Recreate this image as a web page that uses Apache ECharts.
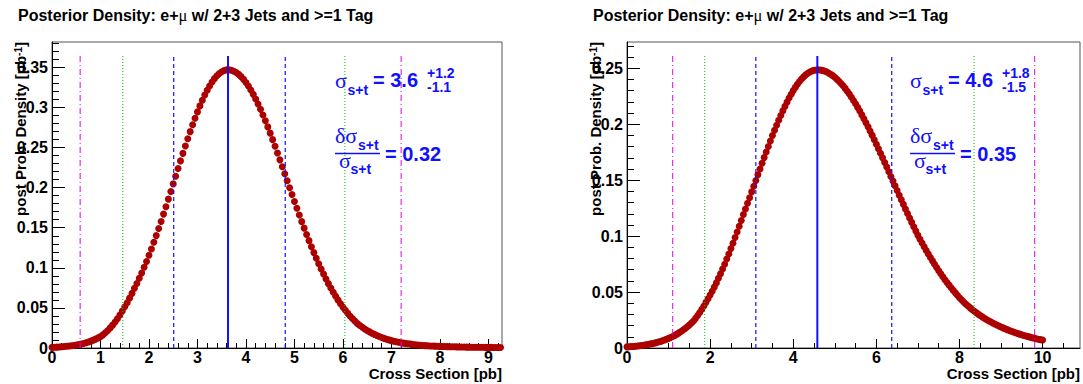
<!DOCTYPE html>
<html>
<head>
<meta charset="utf-8">
<script src="https://cdn.jsdelivr.net/npm/echarts@6/dist/echarts.min.js"></script>
<style>
  html, body { margin: 0; padding: 0; background: #fff; }
  #chart { width: 1083px; height: 384px; }
</style>
</head>
<body>
<div id="chart"></div>
<script>
// Posterior density histograms (bin width 0.05 pb, starting at 0)
const binWidth = 0.05;

const leftDensity = [
  0.0008, 0.0009, 0.0011, 0.0013, 0.0015, 0.0018, 0.0021, 0.0024, 0.0028, 0.0032,
  0.0037, 0.0043, 0.0050, 0.0057, 0.0066, 0.0075, 0.0086, 0.0098, 0.0111, 0.0126,
  0.0142, 0.0164, 0.0190, 0.0218, 0.0251, 0.0285, 0.0324, 0.0365, 0.0412, 0.0460,
  0.0514, 0.0565, 0.0622, 0.0681, 0.0745, 0.0805, 0.0870, 0.0936, 0.1007, 0.1080,
  0.1158, 0.1236, 0.1319, 0.1402, 0.1490, 0.1578, 0.1670, 0.1762, 0.1857, 0.1951,
  0.2047, 0.2142, 0.2239, 0.2334, 0.2428, 0.2520, 0.2611, 0.2699, 0.2784, 0.2866,
  0.2945, 0.3020, 0.3090, 0.3156, 0.3215, 0.3269, 0.3317, 0.3360, 0.3395, 0.3424,
  0.3446, 0.3461, 0.3469, 0.3470, 0.3464, 0.3453, 0.3436, 0.3413, 0.3385, 0.3351,
  0.3311, 0.3267, 0.3218, 0.3164, 0.3105, 0.3043, 0.2977, 0.2907, 0.2834, 0.2758,
  0.2680, 0.2599, 0.2516, 0.2432, 0.2347, 0.2261, 0.2174, 0.2087, 0.2000, 0.1914,
  0.1828, 0.1743, 0.1659, 0.1576, 0.1495, 0.1416, 0.1339, 0.1263, 0.1190, 0.1119,
  0.1051, 0.0985, 0.0922, 0.0861, 0.0803, 0.0748, 0.0695, 0.0645, 0.0597, 0.0552,
  0.0510, 0.0470, 0.0432, 0.0397, 0.0364, 0.0333, 0.0304, 0.0280, 0.0258, 0.0237,
  0.0218, 0.0201, 0.0185, 0.0170, 0.0156, 0.0143, 0.0131, 0.0120, 0.0110, 0.0101,
  0.0092, 0.0085, 0.0078, 0.0072, 0.0066, 0.0061, 0.0056, 0.0052, 0.0048, 0.0044,
  0.0041, 0.0038, 0.0035, 0.0032, 0.0030, 0.0028, 0.0026, 0.0024, 0.0023, 0.0021,
  0.0020, 0.0019, 0.0018, 0.0017, 0.0016, 0.0015, 0.0015, 0.0014, 0.0013, 0.0012,
  0.0012, 0.0011, 0.0011, 0.0010, 0.0010, 0.0010, 0.0009, 0.0009, 0.0009, 0.0008,
  0.0008, 0.0008, 0.0007, 0.0007, 0.0007, 0.0007
];

const rightDensity = [
  0.0010, 0.0011, 0.0013, 0.0014, 0.0016, 0.0018, 0.0020, 0.0022, 0.0025, 0.0028,
  0.0031, 0.0035, 0.0039, 0.0043, 0.0048, 0.0053, 0.0058, 0.0064, 0.0071, 0.0078,
  0.0086, 0.0094, 0.0103, 0.0113, 0.0124, 0.0135, 0.0148, 0.0161, 0.0175, 0.0190,
  0.0206, 0.0223, 0.0242, 0.0265, 0.0291, 0.0317, 0.0346, 0.0376, 0.0408, 0.0440,
  0.0474, 0.0508, 0.0544, 0.0582, 0.0623, 0.0663, 0.0706, 0.0749, 0.0795, 0.0841,
  0.0889, 0.0937, 0.0988, 0.1037, 0.1089, 0.1140, 0.1194, 0.1243, 0.1294, 0.1344,
  0.1396, 0.1446, 0.1498, 0.1549, 0.1601, 0.1651, 0.1702, 0.1752, 0.1802, 0.1851,
  0.1899, 0.1946, 0.1991, 0.2036, 0.2079, 0.2120, 0.2160, 0.2198, 0.2235, 0.2269,
  0.2301, 0.2330, 0.2358, 0.2382, 0.2405, 0.2424, 0.2442, 0.2456, 0.2468, 0.2476,
  0.2483, 0.2486, 0.2487, 0.2486, 0.2482, 0.2476, 0.2469, 0.2459, 0.2448, 0.2435,
  0.2420, 0.2403, 0.2385, 0.2365, 0.2344, 0.2321, 0.2296, 0.2270, 0.2242, 0.2213,
  0.2183, 0.2151, 0.2118, 0.2084, 0.2049, 0.2013, 0.1977, 0.1939, 0.1901, 0.1862,
  0.1822, 0.1782, 0.1741, 0.1700, 0.1659, 0.1618, 0.1576, 0.1534, 0.1492, 0.1450,
  0.1408, 0.1366, 0.1325, 0.1284, 0.1243, 0.1202, 0.1162, 0.1123, 0.1084, 0.1045,
  0.1007, 0.0972, 0.0938, 0.0905, 0.0872, 0.0840, 0.0809, 0.0779, 0.0749, 0.0720,
  0.0691, 0.0664, 0.0637, 0.0611, 0.0586, 0.0562, 0.0538, 0.0515, 0.0493, 0.0471,
  0.0450, 0.0431, 0.0412, 0.0394, 0.0377, 0.0361, 0.0345, 0.0330, 0.0316, 0.0303,
  0.0290, 0.0278, 0.0266, 0.0255, 0.0244, 0.0234, 0.0224, 0.0214, 0.0205, 0.0196,
  0.0188, 0.0180, 0.0172, 0.0164, 0.0157, 0.0150, 0.0143, 0.0136, 0.0130, 0.0124,
  0.0118, 0.0112, 0.0107, 0.0102, 0.0097, 0.0092, 0.0088, 0.0083, 0.0079, 0.0075,
  0.0071
];

// Axis ranges and tick labels
const leftXMax = 9.28;
const rightXMax = 10.9;
const leftXTicks = [0, 1, 2, 3, 4, 5, 6, 7, 8, 9];
const rightXTicks = [0, 2, 4, 6, 8, 10];
const leftYTicks = [0, 0.05, 0.1, 0.15, 0.2, 0.25, 0.3, 0.35];
const rightYTicks = [0, 0.05, 0.1, 0.15, 0.2, 0.25];

// Credible-interval boundaries: -3s, -2s, -1s, mode, +1s, +2s, +3s
const leftLimits = [0.58, 1.46, 2.51, 3.63, 4.81, 6.04, 7.20];
const rightLimits = [1.10, 1.87, 3.10, 4.58, 6.37, 8.35, 9.81];

// Fit results printed in each pad
const leftResult = { value: '3.6', up: '+1.2', down: '-1.1', rel: '0.32' };
const rightResult = { value: '4.6', up: '+1.8', down: '-1.5', rel: '0.35' };

const titleText = 'Posterior Density: e+{mu|\u03bc} w/ 2+3 Jets and >=1 Tag';
const xTitle = 'Cross Section [pb]';
const yTitle = 'post Prob. Density [pb{sup|-1}]';

const SANS = '"Liberation Sans", Arial, Helvetica, sans-serif';
const SERIF = '"Liberation Serif", "DejaVu Serif", serif';
const MARKER = '#ad0000';
const BLUE = '#1010ff';

const limitStyles = [
  { color: '#e000e0', width: 1, type: [6, 3, 1, 3] },
  { color: '#00c000', width: 1, type: [1, 2] },
  { color: BLUE, width: 1.2, type: [4, 3] },
  { color: BLUE, width: 2, type: 'solid' },
  { color: BLUE, width: 1.2, type: [4, 3] },
  { color: '#00c000', width: 1, type: [1, 2] },
  { color: '#e000e0', width: 1, type: [6, 3, 1, 3] }
];

const pads = [
  { left: 52, top: 42, width: 450, height: 306, density: leftDensity, xMax: leftXMax,
    xTicks: leftXTicks, xMinorStep: 0.2, yTicks: leftYTicks, limits: leftLimits,
    result: leftResult },
  { left: 627, top: 42, width: 453, height: 306, density: rightDensity, xMax: rightXMax,
    xTicks: rightXTicks, xMinorStep: 0.5, yTicks: rightYTicks, limits: rightLimits,
    result: rightResult }
];

function minorTicks(step, maxV) {
  const out = [];
  for (let k = 1; k * step <= maxV + 1e-9; k++) out.push(+(k * step).toFixed(4));
  return out;
}

const labelStyle = { fontFamily: SANS, fontWeight: 'bold', fontSize: 16, color: '#000', lineHeight: 11 };

function text(x, y, str, size, opts) {
  opts = opts || {};
  const style = {
    text: str,
    fill: opts.fill || '#000',
    fontFamily: opts.family || SANS,
    fontWeight: opts.weight || 'bold',
    fontSize: size,
    align: opts.align || 'left',
    verticalAlign: opts.valign || 'middle',
    textAlign: opts.align || 'left',
    textVerticalAlign: opts.valign || 'middle'
  };
  if (opts.lineHeight) style.lineHeight = opts.lineHeight;
  if (opts.rich) style.rich = opts.rich;
  const el = { type: 'text', x: x, y: y, z: 100, style: style };
  if (opts.rotation) el.rotation = opts.rotation;
  return el;
}

const grids = [], xAxes = [], yAxes = [], series = [], graphics = [];

pads.forEach(function (p, i) {
  const peak = Math.max.apply(null, p.density);
  const yMax = peak * 1.1;
  const lineTop = peak * 1.05;
  const L = p.left, R = p.left + p.width;

  grids.push({ left: L, top: p.top, width: p.width, height: p.height,
    show: true, borderColor: '#555', borderWidth: 1, backgroundColor: 'transparent' });

  // major and minor x ticks
  xAxes.push({
    type: 'value', gridIndex: i, position: 'bottom', min: 0, max: p.xMax,
    axisLine: { show: true, onZero: false, lineStyle: { color: '#000', width: 1 } },
    axisTick: { show: true, inside: true, length: 9, customValues: p.xTicks, lineStyle: { color: '#000' } },
    axisLabel: Object.assign({ margin: 4, customValues: p.xTicks }, labelStyle),
    splitLine: { show: false }
  });
  xAxes.push({
    type: 'value', gridIndex: i, position: 'bottom', min: 0, max: p.xMax,
    axisLine: { show: false, onZero: false },
    axisTick: { show: true, inside: true, length: 5, customValues: minorTicks(p.xMinorStep, p.xMax), lineStyle: { color: '#000' } },
    axisLabel: { show: false },
    splitLine: { show: false }
  });

  // major and minor y ticks
  yAxes.push({
    type: 'value', gridIndex: i, position: 'left', min: 0, max: yMax,
    axisLine: { show: true, onZero: false, lineStyle: { color: '#000', width: 1 } },
    axisTick: { show: true, inside: true, length: 13, customValues: p.yTicks, lineStyle: { color: '#000' } },
    axisLabel: Object.assign({ margin: 4, customValues: p.yTicks }, labelStyle),
    splitLine: { show: false }
  });
  yAxes.push({
    type: 'value', gridIndex: i, position: 'left', min: 0, max: yMax,
    axisLine: { show: false, onZero: false },
    axisTick: { show: true, inside: true, length: 7, customValues: minorTicks(0.01, yMax), lineStyle: { color: '#000' } },
    axisLabel: { show: false },
    splitLine: { show: false }
  });

  series.push({
    type: 'scatter',
    xAxisIndex: 2 * i, yAxisIndex: 2 * i,
    symbol: 'circle', symbolSize: 7,
    itemStyle: { color: MARKER, opacity: 1 },
    emphasis: { disabled: true },
    data: p.density.map(function (v, k) { return [+(k * binWidth).toFixed(2), v]; }),
    z: 2
  });

  // interval boundaries and mode, drawn over the markers
  p.limits.forEach(function (x, k) {
    series.push({
      type: 'line',
      xAxisIndex: 2 * i, yAxisIndex: 2 * i,
      data: [[x, 0], [x, lineTop]],
      showSymbol: false, symbol: 'none', silent: true,
      lineStyle: limitStyles[k],
      emphasis: { disabled: true },
      z: 3
    });
  });

  // pad title
  graphics.push(text(L - 34, 15.5, titleText, 16, {
    rich: { mu: { fontFamily: SERIF, fontSize: 16.5, fontWeight: 'normal', fill: '#000' } }
  }));
  // y axis title (rotated, aligned with the top of the frame)
  graphics.push(text(L - 24, p.top, yTitle, 15, {
    align: 'right', valign: 'bottom', rotation: Math.PI / 2,
    rich: { sup: { fontFamily: SANS, fontSize: 10, fontWeight: 'bold', fill: '#000', verticalAlign: 'top', lineHeight: 10 } }
  }));
  // x axis title
  graphics.push(text(R, 373.5, xTitle, 15, { align: 'right', lineHeight: 15 }));

  // result: sigma = value (+up, -down)
  const r = p.result;
  const blue = { fill: BLUE };
  graphics.push(text(L + 283, 80, '\u03c3', 22, { fill: BLUE, family: SERIF, weight: 'normal' }));
  graphics.push(text(L + 295.5, 90, 's+t', 14, blue));
  graphics.push(text(L + 321, 80, '= ' + r.value, 20, blue));
  graphics.push(text(L + 375, 72.5, r.up, 14, blue));
  graphics.push(text(L + 375, 87, r.down, 14, blue));

  // relative uncertainty as a fraction
  graphics.push(text(L + 283, 135.5, '\u03b4\u03c3', 22, { fill: BLUE, family: SERIF, weight: 'normal' }));
  graphics.push(text(L + 306, 145, 's+t', 14, blue));
  graphics.push({ type: 'line', z: 100,
    shape: { x1: L + 283, y1: 153.5, x2: L + 328, y2: 153.5 },
    style: { stroke: BLUE, lineWidth: 1.5 } });
  graphics.push(text(L + 287, 160, '\u03c3', 22, { fill: BLUE, family: SERIF, weight: 'normal' }));
  graphics.push(text(L + 298.5, 169, 's+t', 14, blue));
  graphics.push(text(L + 333, 154, '= ' + r.rel, 20, blue));
});

const chart = echarts.init(document.getElementById('chart'), null, { renderer: 'svg' });
chart.setOption({
  animation: false,
  backgroundColor: '#fff',
  grid: grids,
  xAxis: xAxes,
  yAxis: yAxes,
  series: series,
  graphic: { elements: graphics }
});
</script>
</body>
</html>
